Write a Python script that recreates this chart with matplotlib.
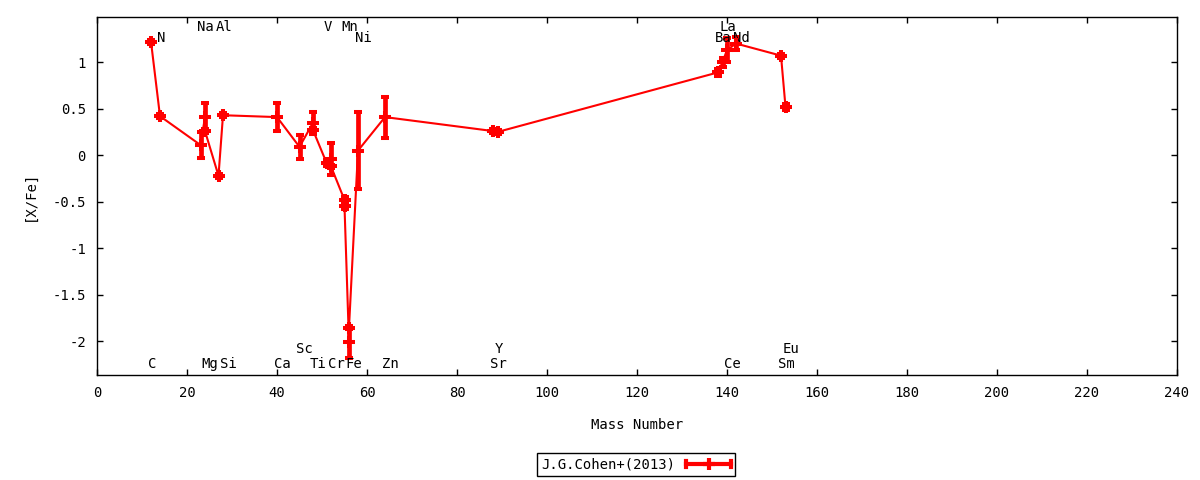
import matplotlib
matplotlib.use("Agg")
import matplotlib.pyplot as plt
from matplotlib.legend_handler import HandlerBase
from matplotlib.lines import Line2D
import numpy as np

plt.rcParams['font.family'] = ['DejaVu Sans Mono']
plt.rcParams['font.size'] = 10

# abundance points in plotting order (mass number, [X/Fe], error)
mass = [12, 14, 23, 24, 24, 27, 28, 40, 45, 48, 48, 51, 52, 52, 55, 55, 56, 56,
        58, 64, 88, 89, 138, 139, 140, 142, 152, 153]
xfe = [1.22, 0.42, 0.11, 0.41, 0.26, -0.22, 0.43, 0.41, 0.09, 0.35, 0.27, -0.08,
       -0.04, -0.12, -0.48, -0.55, -2.01, -1.85, 0.05, 0.41, 0.26, 0.25, 0.89,
       1.00, 1.13, 1.20, 1.07, 0.52]
err = [0.02, 0.02, 0.14, 0.15, 0.02, 0.02, 0.02, 0.15, 0.13, 0.12, 0.02, 0.03,
       0.17, 0.02, 0.03, 0.03, 0.17, 0.02, 0.41, 0.22, 0.02, 0.02, 0.04, 0.05,
       0.13, 0.07, 0.02, 0.03]

# element labels: name, mass number, row level
elem_names = ["Na", "Al", "V", "Mn", "La",
              "N", "Ni", "Ba", "Nd",
              "C", "Mg", "Si", "Ca", "Ti", "Cr", "Fe", "Zn", "Sr", "Ce", "Sm",
              "Sc", "Y", "Eu"]
elem_mass = [23, 27, 51, 55, 139,
             14, 58, 138, 142,
             12, 24, 28, 40, 48, 52, 56, 64, 88, 140, 152,
             45, 89, 153]
elem_y = [1.38] * 5 + [1.26] * 4 + [-2.24] * 11 + [-2.08] * 3


# gnuplot-like legend sample: horizontal bar with end caps and a cross
class HandlerErrLine(HandlerBase):
    def create_artists(self, legend, orig_handle, xdescent, ydescent,
                       width, height, fontsize, trans):
        y = height / 2 - ydescent
        x0 = -xdescent
        x1 = x0 + width
        h = 0.3 * height
        line = Line2D([x0, x1], [y, y], color="red", lw=3, transform=trans)
        caps = Line2D([x0, x0, np.nan, x1, x1], [y - h, y + h, np.nan, y - h, y + h],
                      color="red", lw=3, transform=trans)
        mark = Line2D([(x0 + x1) / 2], [y], marker="+", ms=9, mew=3,
                      color="red", transform=trans)
        return [line, caps, mark]


fig = plt.figure(figsize=(12, 4.8), dpi=100)
ax = fig.add_axes([97 / 1200, 1 - 375 / 480, 1080 / 1200, 358 / 480])

ax.plot(mass, xfe, color="red", lw=1.5, zorder=2)
ax.errorbar(mass, xfe, yerr=err, fmt="none", ecolor="red", elinewidth=3.4,
            capsize=3.2, capthick=2.9, zorder=3)
ax.plot(mass, xfe, ls="none", marker="+", ms=8.5, mew=2.9, color="red", zorder=4)

for name, m, yy in zip(elem_names, elem_mass, elem_y):
    ax.text(m - 0.7, yy, name, ha="left", va="center", fontsize=10)

ax.set_xlim(0, 240)
ax.set_ylim(-2.36, 1.485)
ax.set_xticks(np.arange(0, 241, 20))
ax.set_yticks([-2, -1.5, -1, -0.5, 0, 0.5, 1])
ax.set_yticklabels(["-2", "-1.5", "-1", "-0.5", "0", "0.5", "1"])
ax.tick_params(direction="in", top=True, right=True, length=4, width=1, pad=8)
for s in ax.spines.values():
    s.set_linewidth(1)

ax.set_xlabel("Mass Number", labelpad=13)
ax.set_ylabel("[X/Fe]", labelpad=11)

proxy = Line2D([], [], color="red")
fig.legend([proxy], ["J.G.Cohen+(2013)"], handler_map={Line2D: HandlerErrLine()},
           loc="center", bbox_to_anchor=(636 / 1200, 1 - 464.5 / 480),
           markerfirst=False, fancybox=False, edgecolor="black", framealpha=1,
           handlelength=3.2, borderpad=0.3, handletextpad=0.8, borderaxespad=0)

plt.savefig("out.png")
